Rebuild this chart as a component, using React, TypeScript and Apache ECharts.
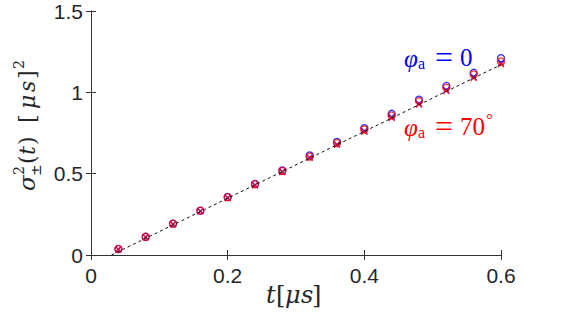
import React, { useEffect, useRef } from 'react';
import * as echarts from 'echarts';

const tValues = [0.04, 0.08, 0.12, 0.16, 0.2, 0.24, 0.28, 0.32, 0.36, 0.4, 0.44, 0.48, 0.52, 0.56, 0.6];
const blueCircle = [0.037, 0.112, 0.193, 0.273, 0.357, 0.437, 0.52, 0.612, 0.695, 0.78, 0.868, 0.955, 1.04, 1.12, 1.21];
const blueCross = [0.035, 0.11, 0.19, 0.27, 0.352, 0.43, 0.512, 0.6, 0.68, 0.762, 0.848, 0.93, 1.015, 1.095, 1.18];
const redCircle = [0.037, 0.112, 0.192, 0.272, 0.355, 0.435, 0.517, 0.605, 0.688, 0.772, 0.858, 0.945, 1.028, 1.11, 1.19];
const redCross = [0.034, 0.109, 0.189, 0.268, 0.35, 0.428, 0.51, 0.598, 0.678, 0.758, 0.842, 0.925, 1.008, 1.088, 1.172];
const fitT = [0.03, 0.6];
const fitY = [0, 1.17];
const xTickLabels = ['0', '0.2', '0.4', '0.6'];
const yTickLabels = ['0', '0.5', '1', '1.5'];

const BLUE = '#0000ff';
const RED = '#ff0000';
const AXIS = '#333333';
const SANS = 'Liberation Sans';
const LSERIF = 'Liberation Serif';
const DSERIF = 'DejaVu Serif';

const pairs = (ys: number[]) => tValues.map((t, i) => [t, ys[i]]);
const CROSS = 'path://M0,0L10,10M0,10L10,0';

function glyph(text: string, x: number, y: number, size: number, color: string, italic: boolean, fam = LSERIF) {
  return {
    type: 'text',
    x,
    y,
    style: {
      text,
      fill: color,
      fontFamily: fam,
      fontSize: size,
      fontStyle: italic ? 'italic' : 'normal',
      align: 'left',
      verticalAlign: 'middle',
    },
  };
}

export default function App() {
  const ref = useRef<HTMLDivElement>(null);
  useEffect(() => {
    if (!ref.current) return;
    const chart = echarts.init(ref.current, null, { renderer: 'svg' });
    const axisCommon = {
      axisLine: { show: true, lineStyle: { color: AXIS, width: 1 } },
      axisTick: { show: true, inside: true, length: 5, lineStyle: { color: AXIS, width: 1 } },
      splitLine: { show: false },
    };
    const ink = '#262626';
    chart.setOption({
      animation: false,
      backgroundColor: '#ffffff',
      grid: { left: 91, top: 11, width: 410, height: 244, containLabel: false },
      xAxis: [
        {
          type: 'value', min: 0, max: 0.6, interval: 0.2, position: 'bottom',
          ...axisCommon,
          axisLabel: {
            color: ink, fontFamily: SANS, fontSize: 21, margin: 10,
            formatter: (v: number) => xTickLabels[Math.round(v / 0.2)] ?? String(v),
          },
        },
        {
          type: 'value', min: 0, max: 0.6, interval: 0.2, position: 'top',
          ...axisCommon, axisLabel: { show: false },
        },
      ],
      yAxis: [
        {
          type: 'value', min: 0, max: 1.5, interval: 0.5, position: 'left',
          ...axisCommon,
          axisLabel: {
            color: ink, fontFamily: SANS, fontSize: 21, margin: 8,
            formatter: (v: number) => yTickLabels[Math.round(v / 0.5)] ?? String(v),
          },
        },
        {
          type: 'value', min: 0, max: 1.5, interval: 0.5, position: 'right',
          ...axisCommon, axisLabel: { show: false },
        },
      ],
      series: [
        {
          type: 'scatter', data: pairs(blueCircle), symbol: 'circle', symbolSize: 7,
          itemStyle: { color: 'rgba(0,0,0,0)', borderColor: BLUE, borderWidth: 1.3 }, z: 2,
        },
        {
          type: 'scatter', data: pairs(blueCross), symbol: CROSS, symbolSize: 6,
          itemStyle: { color: 'rgba(0,0,0,0)', borderColor: BLUE, borderWidth: 1.3 }, z: 2,
        },
        {
          type: 'scatter', data: pairs(redCircle), symbol: 'circle', symbolSize: 7,
          itemStyle: { color: 'rgba(0,0,0,0)', borderColor: RED, borderWidth: 1.3 }, z: 3,
        },
        {
          type: 'scatter', data: pairs(redCross), symbol: CROSS, symbolSize: 6,
          itemStyle: { color: 'rgba(0,0,0,0)', borderColor: RED, borderWidth: 1.3 }, z: 3,
        },
        {
          type: 'line', data: fitT.map((t, i) => [t, fitY[i]]), symbol: 'none',
          lineStyle: { color: '#111111', width: 1, type: [3, 3] }, z: 4,
        },
      ],
      graphic: [
        // y-axis title (rotated)
        {
          type: 'group', x: 34, y: 193, rotation: Math.PI / 2,
          children: [
            glyph('σ', 2, -7, 23, ink, true, DSERIF),
            glyph('2', 18, -15, 14, ink, false, DSERIF),
            glyph('±', 17, 2, 14, ink, false, DSERIF),
            glyph('(', 29, -7, 22, ink, false, DSERIF),
            glyph('t', 38, -7, 22, ink, true, DSERIF),
            glyph(')', 48, -7, 22, ink, false, DSERIF),
            glyph('[', 70, -7, 22, ink, false, DSERIF),
            glyph('μ', 84, -7, 22, ink, true, DSERIF),
            glyph('s', 101, -7, 22, ink, true, DSERIF),
            glyph(']', 114, -7, 22, ink, false, DSERIF),
            glyph('2', 124, -15, 14, ink, false, DSERIF),
          ],
        },
        // x-axis title
        glyph('t', 266, 295, 24, ink, true, DSERIF),
        glyph('[', 276, 295, 24, ink, false, DSERIF),
        glyph('μ', 285, 295, 24, ink, true, DSERIF),
        glyph('s', 301, 295, 24, ink, true, DSERIF),
        glyph(']', 312, 295, 24, ink, false, DSERIF),
        // blue label
        glyph('φ', 404, 58, 25, BLUE, true),
        glyph('a', 418, 63, 16, BLUE, false),
        glyph('=', 435, 57, 32, BLUE, false),
        glyph('0', 460, 57, 25, BLUE, false),
        // red label
        glyph('φ', 404, 127, 25, RED, true),
        glyph('a', 418, 132, 16, RED, false),
        glyph('=', 435, 126, 32, RED, false),
        glyph('70', 460, 126, 25, RED, false),
        glyph('°', 486, 119, 17, RED, false),
      ],
    });
    return () => chart.dispose();
  }, []);
  return (
    <div
      ref={ref}
      style={{ position: 'absolute', left: 0, top: 0, width: 568, height: 313, background: '#fff' }}
    />
  );
}
